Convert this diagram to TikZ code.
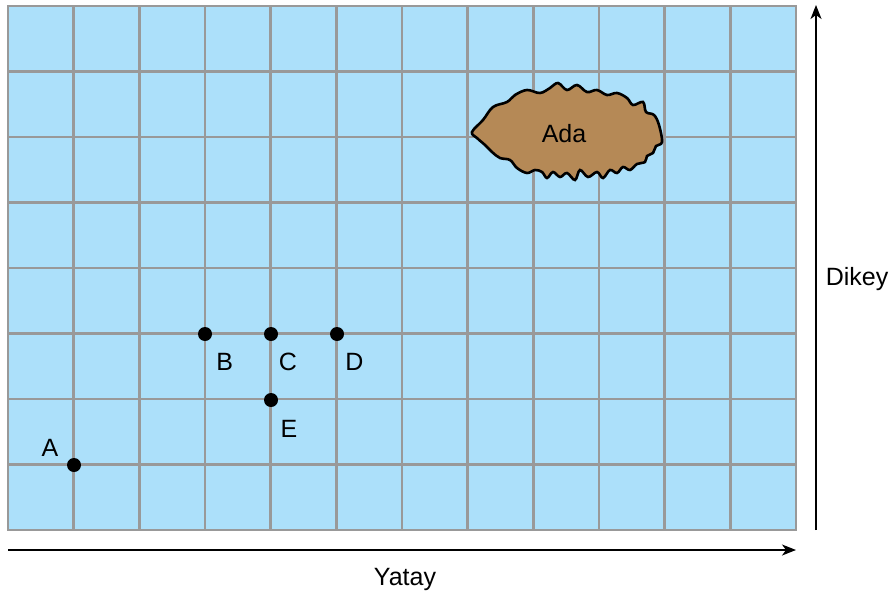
\documentclass[tikz,border=0pt]{standalone}
\usepackage{fontspec}
\setmainfont{Liberation Sans}
\usetikzlibrary{arrows.meta}
\definecolor{sea}{RGB}{172,224,250}
\definecolor{soil}{RGB}{181,137,86}
\definecolor{gridgray}{RGB}{153,153,153}
\begin{document}
\begin{tikzpicture}[x=1pt, y=-1pt, font=\fontsize{25}{30}\selectfont,
	gridline/.style={draw=gridgray, line width=2.6pt},
	dot/.style={circle, fill=black, inner sep=0pt, minimum size=14pt},
	lbl/.style={anchor=base, inner sep=0pt},
	axis/.style={line width=1.5pt, -{Stealth[length=14pt, width=11pt, inset=4pt]}}]
	\useasboundingbox (0,0) rectangle (893,594);
	%Meer
	\fill[sea] (8,6) rectangle (796,530);
	\foreach \i in {1,...,11}
		\draw[gridline] ({8+\i*65.667},6) -- ({8+\i*65.667},530);
	\foreach \j in {1,...,7}
		\draw[gridline] (8,{6+\j*65.5}) -- (796,{6+\j*65.5});
	\draw[gridline] (8,6) rectangle (796,530);
	%Insel
	\draw[line width=2.6pt, fill=soil] plot[smooth cycle, tension=.6] coordinates {
		(472,132) (483,120) (493,107) (507,102) (515,95) (527,90) (540,93) (550,88)
		(558,83) (567,90) (577,85) (587,92) (597,90) (607,95) (617,93) (627,98)
		(633,105) (643,102) (646,112) (654,115) (659,125) (662,142) (656,146) (653,153)
		(647,156) (645,162) (637,164) (630,170) (623,167) (617,173) (610,170) (603,178)
		(597,172) (588,177) (580,170) (575,180) (567,173) (560,177) (553,172) (547,178)
		(542,172) (535,170) (527,173) (517,168) (510,160) (500,158) (492,152) (485,145)
		(477,138)};
	\node[lbl] (ada) at (564,142.7) {Ada};
	%Punkte
	\node[dot] (A) at (74,465)  {};
	\node[dot] (B) at (205,334) {};
	\node[dot] (C) at (271,334) {};
	\node[dot] (D) at (337,334) {};
	\node[dot] (E) at (271,400) {};
	\node[lbl] (labA) at (50,456)    {A};
	\node[lbl] (labB) at (224.7,370) {B};
	\node[lbl] (labC) at (288,370)   {C};
	\node[lbl] (labD) at (354.5,370) {D};
	\node[lbl] (labE) at (289,437.7) {E};
	%Achsen
	\coordinate (xfrom) at (8,550);
	\coordinate (xto)   at (796,550);
	\coordinate (yfrom) at (816,530);
	\coordinate (yto)   at (816,5);
	\draw[axis] (xfrom) -- (xto);
	\draw[axis] (yfrom) -- (yto);
	\node[lbl] (yatay) at (405,585) {Yatay};
	\node[lbl] (dikey) at (857,285) {Dikey};
\end{tikzpicture}
\end{document}
